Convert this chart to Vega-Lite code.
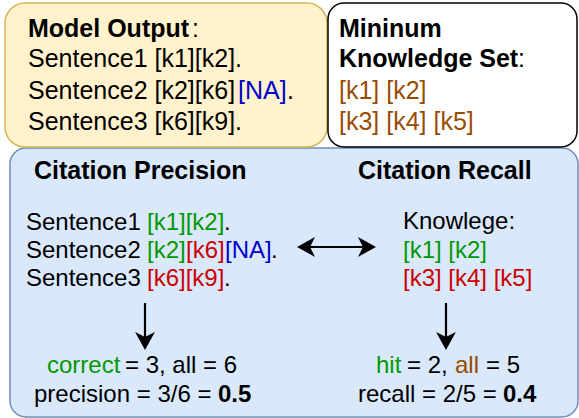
{
  "$schema": "https://vega.github.io/schema/vega-lite/v6.json",
  "width": 579,
  "height": 418,
  "autosize": {"type": "fit", "contains": "padding"},
  "padding": 0,
  "background": "white",
  "config": {"view": {"stroke": null}},
  "datasets": {
    "boxes": [
      {"box": "output", "x": 5, "x2": 327, "y": 3, "y2": 147},
      {"box": "knowledge", "x": 328, "x2": 577, "y": 3, "y2": 147},
      {"box": "metrics", "x": 10, "x2": 578, "y": 148, "y2": 417}
    ],
    "texts": [
      {"role": "heading", "t": "Model Output", "x": 28, "y": 37, "kind": "plain"},
      {"role": "heading", "t": "Mininum", "x": 339, "y": 37, "kind": "plain"},
      {"role": "heading", "t": "Knowledge Set", "x": 339, "y": 67, "kind": "plain"},
      {"role": "heading", "t": "Citation Precision", "x": 34, "y": 179, "kind": "plain"},
      {"role": "heading", "t": "Citation Recall", "x": 358, "y": 179, "kind": "plain"},
      {"role": "result", "t": "0.5", "x": 218, "y": 402, "kind": "plain"},
      {"role": "result", "t": "0.4", "x": 503, "y": 402, "kind": "plain"},
      {"role": "top", "t": ":", "x": 192, "y": 37, "kind": "plain"},
      {"role": "top", "t": ":", "x": 518, "y": 67, "kind": "plain"},
      {"role": "top", "t": "Sentence1 [k1][k2].", "x": 28, "y": 67, "kind": "plain"},
      {"role": "top", "t": "Sentence2 [k2][k6]", "x": 28, "y": 99, "kind": "plain"},
      {"role": "top", "t": "[NA]", "x": 238, "y": 99, "kind": "na"},
      {"role": "top", "t": ".", "x": 287, "y": 99, "kind": "plain"},
      {"role": "top", "t": "Sentence3 [k6][k9].", "x": 28, "y": 130, "kind": "plain"},
      {"role": "top", "t": "[k1] [k2]", "x": 339, "y": 99, "kind": "knowledge"},
      {"role": "top", "t": "[k3] [k4] [k5]", "x": 339, "y": 130, "kind": "knowledge"},
      {"role": "body", "t": "Sentence1", "x": 26, "y": 230, "kind": "plain"},
      {"role": "body", "t": "[k1][k2]", "x": 147, "y": 230, "kind": "correct"},
      {"role": "body", "t": ".", "x": 224, "y": 230, "kind": "plain"},
      {"role": "body", "t": "Sentence2", "x": 26, "y": 258, "kind": "plain"},
      {"role": "body", "t": "[k2]", "x": 147, "y": 258, "kind": "correct"},
      {"role": "body", "t": "[k6]", "x": 186, "y": 258, "kind": "wrong"},
      {"role": "body", "t": "[NA]", "x": 225, "y": 258, "kind": "na"},
      {"role": "body", "t": ".", "x": 271, "y": 258, "kind": "plain"},
      {"role": "body", "t": "Sentence3", "x": 26, "y": 286, "kind": "plain"},
      {"role": "body", "t": "[k6][k9]", "x": 147, "y": 286, "kind": "wrong"},
      {"role": "body", "t": ".", "x": 224, "y": 286, "kind": "plain"},
      {"role": "body", "t": "Knowlege:", "x": 403, "y": 229, "kind": "plain"},
      {"role": "body", "t": "[k1] [k2]", "x": 403, "y": 258, "kind": "correct"},
      {"role": "body", "t": "[k3] [k4] [k5]", "x": 403, "y": 286, "kind": "wrong"},
      {"role": "body", "t": "correct", "x": 47, "y": 373, "kind": "correct"},
      {"role": "body", "t": "= 3, all = 6", "x": 125, "y": 373, "kind": "plain"},
      {"role": "body", "t": "precision = 3/6 =", "x": 34, "y": 402, "kind": "plain"},
      {"role": "body", "t": "hit", "x": 376, "y": 373, "kind": "correct"},
      {"role": "body", "t": "= 2,", "x": 407, "y": 373, "kind": "plain"},
      {"role": "body", "t": "all", "x": 455, "y": 373, "kind": "knowledge"},
      {"role": "body", "t": "= 5", "x": 486, "y": 373, "kind": "plain"},
      {"role": "body", "t": "recall = 2/5 =", "x": 358, "y": 402, "kind": "plain"}
    ],
    "shafts": [
      {"x": 300, "x2": 373, "y": 247, "y2": 247},
      {"x": 145, "x2": 145, "y": 303, "y2": 346},
      {"x": 446, "x2": 446, "y": 303, "y2": 346}
    ],
    "heads": [
      {"dir": "left", "x": 297, "y": 247},
      {"dir": "right", "x": 376, "y": 247},
      {"dir": "down", "x": 145, "y": 350},
      {"dir": "down", "x": 446, "y": 350}
    ]
  },
  "encoding": {
    "x": {"field": "x", "type": "quantitative", "scale": {"domain": [0, 579], "nice": false, "zero": false}, "axis": null},
    "y": {"field": "y", "type": "quantitative", "scale": {"domain": [0, 418], "nice": false, "zero": false, "reverse": true}, "axis": null}
  },
  "layer": [
    {
      "data": {"name": "boxes"},
      "transform": [{"filter": "datum.box === 'metrics'"}],
      "mark": {"type": "rect", "fill": "#dae8fc", "stroke": "#6c8ebf", "strokeWidth": 1.5, "cornerRadius": 16},
      "encoding": {"x2": {"field": "x2"}, "y2": {"field": "y2"}}
    },
    {
      "data": {"name": "boxes"},
      "transform": [{"filter": "datum.box === 'output'"}],
      "mark": {"type": "rect", "fill": "#fff2cc", "stroke": "#d6b656", "strokeWidth": 1.5, "cornerRadius": 20},
      "encoding": {"x2": {"field": "x2"}, "y2": {"field": "y2"}}
    },
    {
      "data": {"name": "boxes"},
      "transform": [{"filter": "datum.box === 'knowledge'"}],
      "mark": {"type": "rect", "fill": "#ffffff", "stroke": "#000000", "strokeWidth": 1.5, "cornerRadius": 16},
      "encoding": {"x2": {"field": "x2"}, "y2": {"field": "y2"}}
    },
    {
      "data": {"name": "shafts"},
      "mark": {"type": "rule", "color": "#000000", "strokeWidth": 2.2},
      "encoding": {"x2": {"field": "x2"}, "y2": {"field": "y2"}}
    },
    {
      "data": {"name": "heads"},
      "transform": [{"filter": "datum.dir === 'right'"}],
      "mark": {"type": "point", "filled": true, "color": "#000000", "opacity": 1, "size": 324, "strokeWidth": 0, "shape": "M0,0 L-2,-1.1 L-1.45,0 L-2,1.1 Z"}
    },
    {
      "data": {"name": "heads"},
      "transform": [{"filter": "datum.dir === 'left'"}],
      "mark": {"type": "point", "filled": true, "color": "#000000", "opacity": 1, "size": 324, "strokeWidth": 0, "shape": "M0,0 L2,-1.1 L1.45,0 L2,1.1 Z"}
    },
    {
      "data": {"name": "heads"},
      "transform": [{"filter": "datum.dir === 'down'"}],
      "mark": {"type": "point", "filled": true, "color": "#000000", "opacity": 1, "size": 324, "strokeWidth": 0, "shape": "M0,0 L-1.1,-2 L0,-1.45 L1.1,-2 Z"}
    },
    {
      "data": {"name": "texts"},
      "transform": [{"filter": "datum.role === 'heading'"}],
      "mark": {"type": "text", "align": "left", "baseline": "alphabetic", "font": "Liberation Sans", "fontWeight": "bold", "fontSize": 25},
      "encoding": {"text": {"field": "t"}, "color": {"value": "#000000"}}
    },
    {
      "data": {"name": "texts"},
      "transform": [{"filter": "datum.role === 'result'"}],
      "mark": {"type": "text", "align": "left", "baseline": "alphabetic", "font": "Liberation Sans", "fontWeight": "bold", "fontSize": 24},
      "encoding": {"text": {"field": "t"}, "color": {"value": "#000000"}}
    },
    {
      "data": {"name": "texts"},
      "transform": [{"filter": "datum.role === 'top'"}],
      "mark": {"type": "text", "align": "left", "baseline": "alphabetic", "font": "Liberation Sans", "fontSize": 25},
      "encoding": {
        "text": {"field": "t"},
        "color": {"field": "kind", "type": "nominal", "legend": null, "scale": {"domain": ["plain", "correct", "wrong", "na", "knowledge"], "range": ["#000000", "#009900", "#cc0000", "#0000cc", "#994c00"]}}
      }
    },
    {
      "data": {"name": "texts"},
      "transform": [{"filter": "datum.role === 'body'"}],
      "mark": {"type": "text", "align": "left", "baseline": "alphabetic", "font": "Liberation Sans", "fontSize": 24},
      "encoding": {
        "text": {"field": "t"},
        "color": {"field": "kind", "type": "nominal", "legend": null, "scale": {"domain": ["plain", "correct", "wrong", "na", "knowledge"], "range": ["#000000", "#009900", "#cc0000", "#0000cc", "#994c00"]}}
      }
    }
  ]
}
